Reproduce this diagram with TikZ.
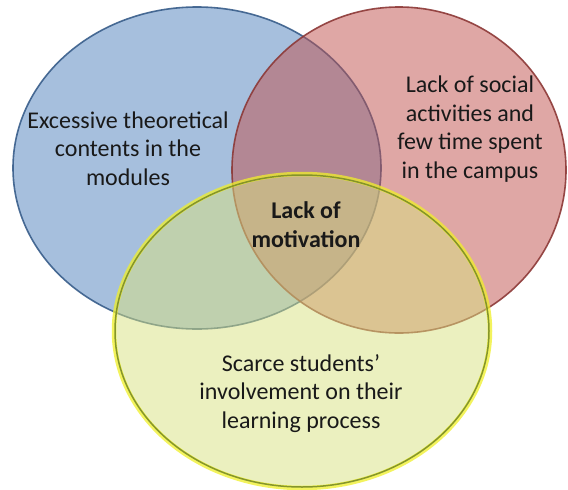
\documentclass[tikz,border=0pt]{standalone}
\usepackage{fontspec}
\setmainfont{Carlito}
\definecolor{blueset}{RGB}{79,129,189}
\definecolor{blueline}{RGB}{56,93,138}
\definecolor{redset}{RGB}{192,80,77}
\definecolor{redline}{RGB}{140,56,54}
\definecolor{yellowset}{RGB}{217,226,128}
\definecolor{yellowline}{RGB}{122,140,40}
\definecolor{yellowglow}{RGB}{240,240,40}
\definecolor{textcol}{RGB}{25,25,25}
\begin{document}
\begin{tikzpicture}[x=1pt,y=-1pt,
  setfill/.style={fill opacity=0.5, draw opacity=0.9, line width=1.6pt},
  lbl/.style={font=\fontsize{24}{28.5}\selectfont, align=center, anchor=base,
              inner sep=0pt, text=textcol}]
  \useasboundingbox (0,0) rectangle (568,490);
  \fill[white] (0,0) rectangle (568,490);

  % centres of the three sets
  \coordinate (cblue)   at (197,168);
  \coordinate (cred)    at (399,170);
  \coordinate (cyellow) at (302,331);

  % the three overlapping sets
  \path[setfill, fill=blueset, draw=blueline]
    (cblue) ellipse [x radius=184pt, y radius=161pt];
  \path[setfill, fill=redset, draw=redline]
    (cred) ellipse [x radius=167pt, y radius=163pt];
  \path[fill=yellowset, fill opacity=0.5]
    (cyellow) ellipse [x radius=187pt, y radius=156pt];
  \draw[yellowglow, draw opacity=0.75, line width=4.5pt]
    (cyellow) ellipse [x radius=188pt, y radius=157pt];
  \draw[yellowline, draw opacity=0.9, line width=1.5pt]
    (cyellow) ellipse [x radius=187pt, y radius=156pt];

  % labels (anchored on the baseline of their last line)
  \node[lbl] (tblue) at (128,185)
    {Excessive theoretical\\contents in the\\modules};
  \node[lbl] (tred) at (470,178)
    {Lack of social\\activities and\\few time spent\\in the campus};
  \node[lbl, font=\fontsize{24}{29}\selectfont\bfseries] (tcentre) at (306,247)
    {Lack of\\motivation};
  \node[lbl] (tyellow) at (301,428)
    {Scarce students’\\involvement on their\\learning process};
\end{tikzpicture}
\end{document}
